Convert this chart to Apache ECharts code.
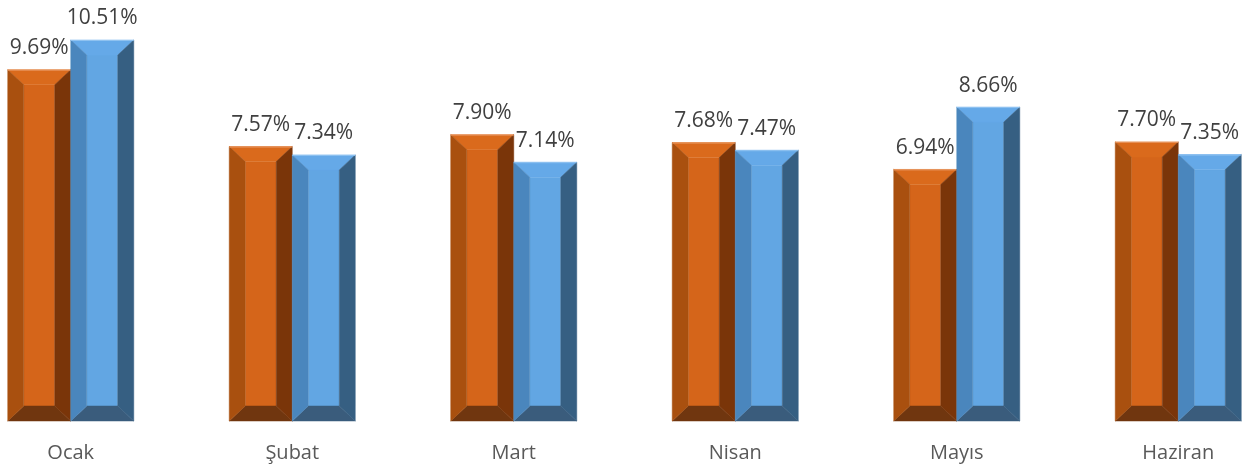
<!DOCTYPE html>
<html>
<head>
<meta charset="utf-8">
<script src="https://cdn.jsdelivr.net/npm/echarts@6/dist/echarts.min.js"></script>
<style>
html,body{margin:0;padding:0;background:#fff;overflow:hidden;width:1253px;height:470px;}
#c{width:1329px;height:470px;position:absolute;left:-40px;top:0;}
</style>
</head>
<body>
<div id="c"></div>
<script>
const categories = ['Ocak', 'Şubat', 'Mart', 'Nisan', 'Mayıs', 'Haziran'];
const series1 = [9.69, 7.57, 7.90, 7.68, 6.94, 7.70];
const series2 = [10.51, 7.34, 7.14, 7.47, 8.66, 7.35];

const palettes = [
  {face:'#D5651A', top:'#DA6A1C', left:'#A9500F', right:'#7A3509', bottom:'#70360F', edge:'#E8955E'},
  {face:'#62A6E3', top:'#65A9E8', left:'#4A86BD', right:'#365F82', bottom:'#3A5C7C', edge:'#8FC2F0'}
];
const FONT = '"Open Sans", "Noto Sans", sans-serif';

function makeRender(sIdx) {
  return function (params, api) {
    const idx = api.value(0);
    const val = api.value(1);
    const top = api.coord([idx, val]);
    const base = api.coord([idx, 0]);
    const band = api.size([1, 0])[0];
    const bw = band * 0.2845;
    const x0 = sIdx === 0 ? top[0] - bw : top[0];
    const x1 = x0 + bw;
    const y0 = top[1], y1 = base[1];
    const b = 16, v = 15;
    const p = palettes[sIdx];
    const poly = (pts, c) => ({type:'polygon', shape:{points:pts}, style:{fill:c, stroke:c, lineWidth:0.5}});
    return {
      type: 'group',
      children: [
        {type:'rect', shape:{x:x0+b, y:y0+v, width:bw-2*b, height:(y1-y0)-2*v}, style:{fill:p.face}},
        poly([[x0,y0],[x1,y0],[x1-b,y0+v],[x0+b,y0+v]], p.top),
        poly([[x0,y1],[x1,y1],[x1-b,y1-v],[x0+b,y1-v]], p.bottom),
        poly([[x0,y0],[x0+b,y0+v],[x0+b,y1-v],[x0,y1]], p.left),
        poly([[x1,y0],[x1-b,y0+v],[x1-b,y1-v],[x1,y1]], p.right),
        {type:'line', shape:{x1:x0, y1:y0+0.5, x2:x1, y2:y0+0.5}, style:{stroke:p.edge, lineWidth:1}},
        {type:'text', style:{text: val.toFixed(2) + '%', x:(x0+x1)/2, y:y0-11, align:'center', verticalAlign:'bottom',
          fill:'#404040', font:'21px ' + FONT}}
      ]
    };
  };
}

const chart = echarts.init(document.getElementById('c'));
chart.setOption({
  animation: false,
  grid: {left: 0, right: 0, top: 22.25, bottom: 49, containLabel: false},
  xAxis: {
    type: 'category', data: categories,
    axisLine: {show: false}, axisTick: {show: false},
    axisLabel: {color: '#595959', fontSize: 20, fontFamily: FONT, margin: 22}
  },
  yAxis: {type: 'value', min: 0, max: 11, show: false, splitLine: {show: false}},
  series: [
    {type: 'custom', renderItem: makeRender(0), data: series1.map((v, i) => [i, v]), encode: {x: 0, y: 1}},
    {type: 'custom', renderItem: makeRender(1), data: series2.map((v, i) => [i, v]), encode: {x: 0, y: 1}}
  ]
});
</script>
</body>
</html>
